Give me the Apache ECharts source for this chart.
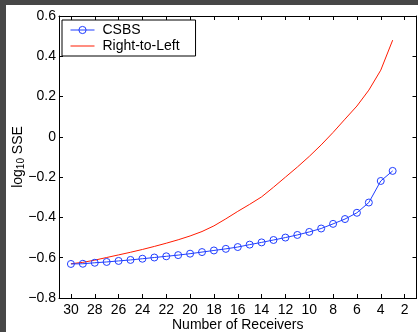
<!DOCTYPE html>
<html>
<head>
<meta charset="utf-8">
<script src="https://cdn.jsdelivr.net/npm/echarts@6/dist/echarts.min.js"></script>
<style>
  html, body { margin: 0; padding: 0; background: #474747; }
  #chart { position: absolute; left: 6px; top: 5px; width: 412px; height: 327px; background: #fff; }
</style>
</head>
<body>
<div id="chart"></div>
<script>
// receivers count, from 30 down to 3
const receivers = [30, 29, 28, 27, 26, 25, 24, 23, 22, 21, 20, 19, 18, 17, 16, 15, 14, 13, 12, 11, 10, 9, 8, 7, 6, 5, 4, 3];
const csbs = [-0.631, -0.630, -0.625, -0.621, -0.616, -0.611, -0.605, -0.599, -0.593, -0.587, -0.580, -0.572, -0.564, -0.556, -0.547, -0.535, -0.524, -0.512, -0.500, -0.487, -0.472, -0.455, -0.432, -0.408, -0.377, -0.326, -0.219, -0.169];
const rightToLeft = [-0.630, -0.623, -0.612, -0.599, -0.586, -0.573, -0.559, -0.544, -0.528, -0.511, -0.492, -0.470, -0.442, -0.407, -0.370, -0.335, -0.298, -0.250, -0.200, -0.150, -0.097, -0.040, 0.022, 0.088, 0.153, 0.232, 0.331, 0.480];
const xTicks = [2, 4, 6, 8, 10, 12, 14, 16, 18, 20, 22, 24, 26, 28, 30];

const font = "'Liberation Sans', Arial, sans-serif";
const minus = (v) => v < 0 ? "\u2212" + Math.abs(v).toFixed(1) : (v === 0 ? "0" : v.toFixed(1));
const blue = "#1f3dff";
const red = "#ff1a00";

const chart = echarts.init(document.getElementById("chart"));

const baseX = {
  type: "value", min: 1, max: 31, inverse: true,
  splitLine: { show: false },
  axisLine: { show: true, onZero: false, lineStyle: { color: "#000", width: 1 } },
  axisTick: { show: true, inside: true, length: 4, customValues: xTicks, lineStyle: { color: "#000" } }
};
const baseY = {
  type: "value", min: -0.8, max: 0.6, interval: 0.2,
  splitLine: { show: false },
  axisLine: { show: true, onZero: false, lineStyle: { color: "#000", width: 1 } },
  axisTick: { show: true, inside: true, length: 4, lineStyle: { color: "#000" } }
};

chart.setOption({
  animation: false,
  textStyle: { fontFamily: font },
  grid: { left: 53, right: 1.5, top: 11, bottom: 34, containLabel: false, outerBoundsMode: "none" },
  legend: {
    left: 56, top: 15, orient: "vertical",
    backgroundColor: "#fff", borderColor: "#000", borderWidth: 1, borderRadius: 0,
    padding: [2, 16, 2, 8], itemWidth: 24, itemHeight: 9, itemGap: 0,
    lineStyle: { width: 1 },
    itemStyle: { borderWidth: 1 },
    textStyle: { fontFamily: font, fontSize: 14, lineHeight: 16, color: "#000", padding: [0, 0, 0, 3] },
    data: [
      { name: "CSBS" },
      { name: "Right-to-Left", icon: "path://M0,0h24v1H0z" }
    ]
  },
  xAxis: [
    Object.assign({}, baseX, {
      position: "bottom",
      name: "Number of Receivers", nameLocation: "middle", nameGap: 20, nameMoveOverlap: false,
      nameTextStyle: { fontFamily: font, fontSize: 14, color: "#000" },
      axisLabel: { show: true, customValues: xTicks, margin: 5, fontFamily: font, fontSize: 14, color: "#000" }
    }),
    Object.assign({}, baseX, { position: "top", axisLabel: { show: false } })
  ],
  yAxis: [
    Object.assign({}, baseY, {
      position: "left",
      name: "{a|log}{s|10}{a| SSE}", nameLocation: "middle", nameGap: 41, nameRotate: 90, nameMoveOverlap: false,
      nameTextStyle: {
        color: "#000", align: "center", verticalAlign: "middle",
        rich: {
          a: { fontFamily: font, fontSize: 14, color: "#000", lineHeight: 17 },
          s: { fontFamily: font, fontSize: 10, color: "#000", lineHeight: 17, verticalAlign: "bottom", padding: [5, 0, 0, 0] }
        }
      },
      axisLabel: { show: true, margin: 3, fontFamily: font, fontSize: 14, color: "#000", formatter: minus }
    }),
    Object.assign({}, baseY, { position: "right", axisLabel: { show: false } })
  ],
  series: [
    {
      name: "Right-to-Left", type: "line", xAxisIndex: 0, yAxisIndex: 0,
      data: receivers.map((r, i) => [r, rightToLeft[i]]),
      symbol: "none", lineStyle: { color: red, width: 1 }, itemStyle: { color: red }
    },
    {
      name: "CSBS", type: "line", xAxisIndex: 0, yAxisIndex: 0,
      data: receivers.map((r, i) => [r, csbs[i]]),
      symbol: "circle", symbolSize: 7,
      lineStyle: { color: blue, width: 1 },
      itemStyle: { color: "rgba(255,255,255,0)", borderColor: blue, borderWidth: 1 }
    }
  ]
});
</script>
</body>
</html>
